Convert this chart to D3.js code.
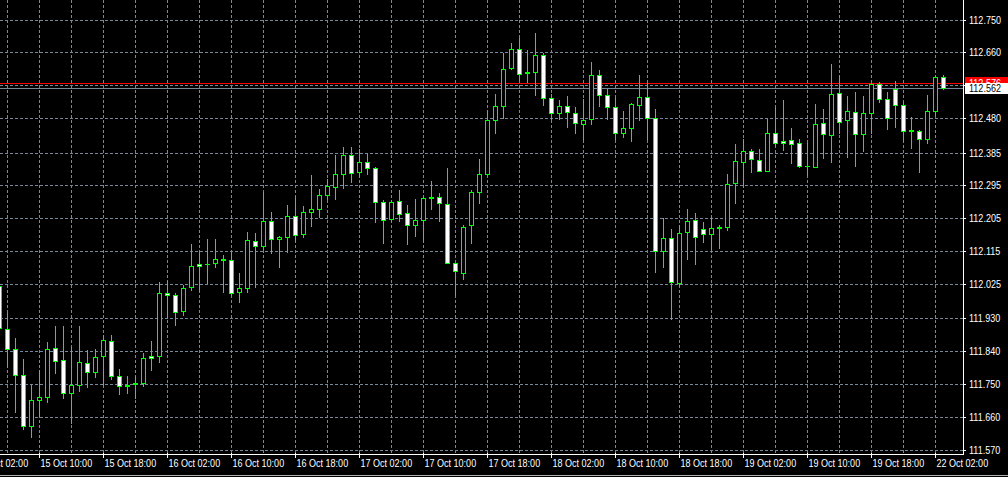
<!DOCTYPE html>
<html><head><meta charset="utf-8">
<script src="https://cdn.jsdelivr.net/npm/d3@7"></script>
<style>html,body{margin:0;padding:0;background:#000;overflow:hidden}svg{display:block}</style>
</head><body>
<svg id="c" width="1008" height="477"></svg>
<script>
// ---- data (H1 bars, bar index 0 = 15 Oct 05:00) ----
const opens = [112.020,111.901,111.846,111.775,111.635,111.706,111.715,111.848,111.816,111.726,111.748,111.808,111.783,111.827,111.868,111.772,111.745,111.750,111.753,111.827,
111.827,112.000,111.995,111.950,112.015,112.080,112.079,112.081,112.092,112.091,112.002,112.014,112.143,112.129,112.198,112.148,112.154,112.211,112.161,112.222,
112.231,112.269,112.291,112.327,112.379,112.332,112.360,112.343,112.250,112.203,112.252,112.220,112.187,112.200,112.261,112.263,112.244,112.082,112.054,112.187,
112.277,112.325,112.475,112.513,112.617,112.670,112.603,112.605,112.653,112.535,112.494,112.513,112.494,112.464,112.478,112.598,112.543,112.510,112.439,112.453,
112.516,112.538,112.480,112.115,112.151,112.027,112.167,112.200,112.176,112.162,112.178,112.180,112.302,112.360,112.390,112.365,112.335,112.439,112.417,112.420,
112.412,112.347,112.346,112.467,112.433,112.549,112.475,112.497,112.436,112.494,112.574,112.532,112.560,112.516,112.445,112.445,112.423,112.499,112.593];
const highs = [112.026,111.945,111.877,111.817,111.746,111.787,111.866,111.910,111.910,111.852,111.910,111.844,111.847,111.883,111.883,111.790,111.773,111.773,111.835,111.869,
112.030,112.032,112.000,112.022,112.135,112.113,112.149,112.149,112.105,112.113,112.053,112.168,112.165,112.277,112.223,112.155,112.242,112.264,112.237,112.322,
112.286,112.313,112.377,112.401,112.401,112.395,112.380,112.344,112.256,112.256,112.281,112.240,112.258,112.266,112.308,112.274,112.343,112.083,112.185,112.283,
112.366,112.498,112.546,112.659,112.686,112.698,112.667,112.712,112.659,112.546,112.530,112.541,112.510,112.532,112.634,112.612,112.560,112.538,112.499,112.521,
112.598,112.576,112.505,112.205,112.176,112.187,112.229,112.220,112.195,112.209,112.187,112.327,112.409,112.423,112.395,112.395,112.476,112.510,112.528,112.453,
112.423,112.412,112.517,112.505,112.629,112.599,112.539,112.550,112.539,112.576,112.579,112.550,112.582,112.524,112.483,112.448,112.543,112.598,112.598];
const lows = [111.894,111.796,111.672,111.627,111.604,111.663,111.700,111.779,111.711,111.643,111.730,111.742,111.768,111.748,111.764,111.722,111.726,111.711,111.744,111.788,
111.810,111.931,111.911,111.938,112.009,112.009,112.027,112.070,112.001,111.995,111.974,112.002,112.015,112.121,112.110,112.070,112.111,112.143,112.153,112.183,
112.209,112.258,112.258,112.287,112.304,112.320,112.325,112.194,112.136,112.198,112.198,112.133,112.155,112.141,112.231,112.196,112.081,111.993,112.037,112.138,
112.246,112.322,112.438,112.480,112.615,112.585,112.579,112.542,112.516,112.476,112.476,112.454,112.438,112.419,112.463,112.512,112.478,112.423,112.428,112.417,
112.475,112.423,112.058,112.070,111.927,112.021,112.094,112.078,112.139,112.119,112.122,112.172,112.247,112.290,112.332,112.334,112.334,112.404,112.393,112.357,
112.345,112.323,112.344,112.369,112.358,112.439,112.372,112.347,112.389,112.439,112.523,112.449,112.456,112.417,112.397,112.331,112.412,112.488,112.558];
const closes = [111.904,111.846,111.775,111.635,111.706,111.715,111.846,111.813,111.726,111.748,111.811,111.783,111.824,111.871,111.772,111.745,111.748,111.752,111.822,111.822,
112.000,111.995,111.948,112.014,112.074,112.074,112.080,112.093,112.091,111.999,112.014,112.145,112.129,112.198,112.148,112.154,112.211,112.159,112.222,112.231,
112.269,112.294,112.327,112.379,112.329,112.360,112.343,112.250,112.200,112.250,112.217,112.187,112.200,112.261,112.262,112.247,112.082,112.060,112.181,112.277,
112.327,112.475,112.513,112.615,112.670,112.601,112.605,112.653,112.535,112.494,112.513,112.497,112.467,112.475,112.598,112.543,112.510,112.439,112.453,112.519,
112.538,112.480,112.115,112.151,112.030,112.165,112.198,112.154,112.162,112.178,112.180,112.299,112.362,112.390,112.368,112.335,112.439,112.412,112.412,112.409,
112.347,112.348,112.464,112.436,112.546,112.469,112.499,112.436,112.494,112.574,112.532,112.480,112.516,112.445,112.446,112.423,112.499,112.593,112.562];

const priceTicks = [112.750,112.660,112.570,112.480,112.385,112.295,112.205,112.115,112.025,111.930,111.840,111.750,111.660,111.570];
const timeLabels = ["15 Oct 02:00","15 Oct 10:00","15 Oct 18:00","16 Oct 02:00","16 Oct 10:00","16 Oct 18:00","17 Oct 02:00","17 Oct 10:00",
"17 Oct 18:00","18 Oct 02:00","18 Oct 10:00","18 Oct 18:00","19 Oct 02:00","19 Oct 10:00","19 Oct 18:00","22 Oct 02:00"];
const timeLabelBars = [-3,5,13,21,29,37,45,53,61,69,77,85,93,101,109,117];
const gridBars = d3.range(1, 118, 4);
const bidPrice = 112.562, askPrice = 112.576;

// ---- drawing ----
const W = 1008, H = 477;
const plotRight = 963, plotBottom = 454;
const svg = d3.select("#c");
svg.append("rect").attr("width", W).attr("height", H).attr("fill", "#000");

const x = d3.scaleLinear().domain([0, opens.length - 1]).range([-0.5, 8 * (opens.length - 1) - 0.5]);
const y = d3.scaleLinear().domain([111.570, 112.750]).range([450, 20]);
const py = v => Math.floor(y(v)) + 0.5;

const FONT = "'Liberation Sans',Arial,sans-serif";
const FS = 10.5, SX = 0.86;
const gridColor = "#778899";

function label(sel, tx, ty, txt, fill) {
  sel.append("text")
    .attr("transform", `translate(${tx},${ty}) scale(${SX},1)`)
    .attr("fill", fill).attr("font-family", FONT).attr("font-size", FS)
    .text(txt);
}

// horizontal grid
svg.append("g").selectAll("line").data(priceTicks).join("line")
  .attr("x1", 0).attr("x2", plotRight).attr("y1", d => py(d)).attr("y2", d => py(d))
  .attr("stroke", gridColor).attr("stroke-width", 1).attr("stroke-dasharray", "3,2");
// vertical grid
svg.append("g").selectAll("line").data(gridBars).join("line")
  .attr("x1", d => x(d)).attr("x2", d => x(d)).attr("y1", 0).attr("y2", plotBottom)
  .attr("stroke", gridColor).attr("stroke-width", 1).attr("stroke-dasharray", "3,2");

// bid / ask lines
svg.append("line").attr("x1", 0).attr("x2", plotRight).attr("y1", py(askPrice)).attr("y2", py(askPrice))
  .attr("stroke", "#ff0000").attr("stroke-width", 1);
svg.append("line").attr("x1", 0).attr("x2", plotRight).attr("y1", py(bidPrice)).attr("y2", py(bidPrice))
  .attr("stroke", "#778899").attr("stroke-width", 1);

// candles
const bars = d3.range(opens.length).map(i => ({i, o: opens[i], h: highs[i], l: lows[i], c: closes[i]}));
const g = svg.append("g");
g.selectAll("line.wick").data(bars).join("line").attr("class", "wick")
  .attr("x1", d => x(d.i)).attr("x2", d => x(d.i))
  .attr("y1", d => py(d.h) - 0.5).attr("y2", d => py(d.l) + 0.5)
  .attr("stroke", "#00ff00").attr("stroke-width", 1);
const bodyH = d => Math.floor(y(Math.min(d.o, d.c))) - Math.floor(y(Math.max(d.o, d.c)));
g.selectAll("rect.body").data(bars.filter(d => bodyH(d) >= 1)).join("rect").attr("class", "body")
  .attr("x", d => x(d.i) - 2).attr("width", 4)
  .attr("y", d => py(Math.max(d.o, d.c)))
  .attr("height", bodyH)
  .attr("fill", d => d.c > d.o ? "#000" : "#fff")
  .attr("stroke", "#00ff00").attr("stroke-width", 1);
g.selectAll("line.doji").data(bars.filter(d => bodyH(d) < 1)).join("line").attr("class", "doji")
  .attr("x1", d => x(d.i) - 2.5).attr("x2", d => x(d.i) + 2.5)
  .attr("y1", d => py(d.c)).attr("y2", d => py(d.c))
  .attr("stroke", "#00ff00").attr("stroke-width", 1);

// borders
svg.append("line").attr("x1", plotRight + 0.5).attr("x2", plotRight + 0.5).attr("y1", 0).attr("y2", plotBottom + 1)
  .attr("stroke", "#fff");
svg.append("line").attr("x1", 0).attr("x2", plotRight + 1).attr("y1", plotBottom + 0.5).attr("y2", plotBottom + 0.5)
  .attr("stroke", "#fff");

// price axis labels + ticks
const ya = svg.append("g");
ya.selectAll("line").data(priceTicks).join("line")
  .attr("x1", plotRight + 1).attr("x2", plotRight + 3).attr("y1", d => py(d)).attr("y2", d => py(d)).attr("stroke", "#fff");
priceTicks.forEach(p => label(ya, 969, Math.floor(y(p)) + 4, p.toFixed(3), "#fff"));

// time axis labels + ticks
const xa = svg.append("g");
xa.selectAll("line").data(timeLabelBars).join("line")
  .attr("x1", d => x(d)).attr("x2", d => x(d)).attr("y1", plotBottom - 1).attr("y2", plotBottom + 4).attr("stroke", "#fff");
timeLabels.forEach((t, i) => label(xa, x(timeLabelBars[i]) + 1, 467, t, "#fff"));

// ask / bid price boxes (bid box drawn over the ask box, as in the terminal)
const askY = Math.floor(y(askPrice)), bidY = Math.floor(y(bidPrice));
const bx = svg.append("g");
bx.append("rect").attr("x", 965).attr("y", askY - 6).attr("width", 43).attr("height", 12).attr("fill", "#ff0000");
label(bx, 969, askY + 4, askPrice.toFixed(3), "#fff");
bx.append("rect").attr("x", 965).attr("y", bidY - 5).attr("width", 43).attr("height", 11).attr("fill", "#fff");
label(bx, 969, bidY + 4, bidPrice.toFixed(3), "#000");

// window bottom edge
svg.append("line").attr("x1", 0).attr("x2", W).attr("y1", 475.5).attr("y2", 475.5).attr("stroke", "#b0b0b0");
</script>
</body></html>
